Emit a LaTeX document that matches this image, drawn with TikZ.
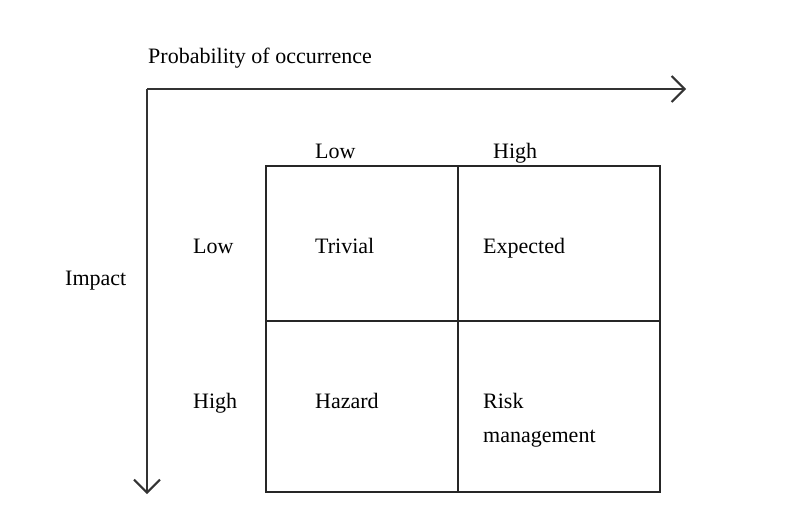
\documentclass[tikz,border=0pt]{standalone}
\usepackage{fontspec}
\setmainfont{Liberation Serif}
\usetikzlibrary{arrows.meta}
\begin{document}
\begin{tikzpicture}[x=1pt,y=-1pt,
  lbl/.style={anchor=base west,inner sep=0pt,font=\fontsize{22}{26}\selectfont,text=black},
  axis/.style={line width=2pt,draw=black!80,-{Straight Barb[length=13pt,width=26pt,line width=2pt]}},
  grid/.style={line width=2.4pt,draw=black!85}]
\useasboundingbox (0,0) rectangle (800,522);
\coordinate (o) at (147,89);
\coordinate (xend) at (686,89);
\coordinate (yend) at (147,494);
\draw[axis] (o) -- (xend);
\draw[axis] (o) -- (yend);
\coordinate (tl) at (266,166);
\coordinate (br) at (660,492);
\coordinate (tm) at (458,166);
\coordinate (bm) at (458,492);
\coordinate (ml) at (266,321);
\coordinate (mr) at (660,321);
\draw[grid] (tl) rectangle (br);
\draw[grid] (tm) -- (bm);
\draw[grid] (ml) -- (mr);
\node[lbl] (prob) at (148,63) {Probability of occurrence};
\node[lbl] (lowc) at (315,158) {Low};
\node[lbl] (highc) at (493,158) {High};
\node[lbl] (impact) at (65,285) {Impact};
\node[lbl] (lowr) at (193,253) {Low};
\node[lbl] (highr) at (193,408) {High};
\node[lbl] (triv) at (315,253) {Trivial};
\node[lbl] (exp) at (483,253) {Expected};
\node[lbl] (haz) at (315,408) {Hazard};
\node[lbl] (risk) at (483,408) {Risk};
\node[lbl] (mgmt) at (483,442) {management};
\end{tikzpicture}
\end{document}
